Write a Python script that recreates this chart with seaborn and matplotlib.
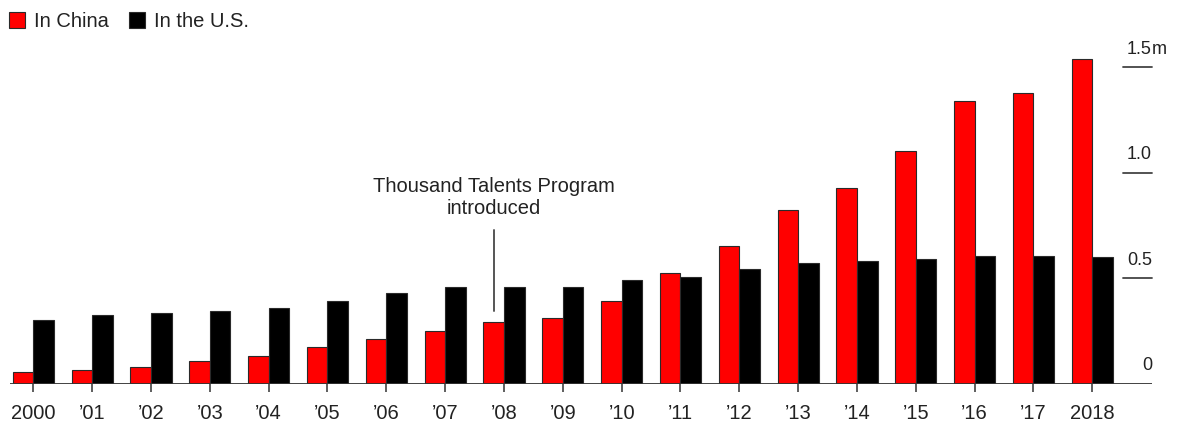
import matplotlib
matplotlib.use("Agg")
import matplotlib.pyplot as plt
import matplotlib.transforms as mtransforms
from matplotlib.patches import Patch
import seaborn as sns
import pandas as pd

# ---- data (millions) ----
years = list(range(2000, 2019))
year_labels = ["2000", "’01", "’02", "’03", "’04", "’05", "’06", "’07", "’08", "’09",
               "’10", "’11", "’12", "’13", "’14", "’15", "’16", "’17", "2018"]
china = [0.054, 0.066, 0.079, 0.108, 0.133, 0.174, 0.213, 0.248, 0.294, 0.313,
         0.392, 0.525, 0.651, 0.823, 0.929, 1.101, 1.341, 1.379, 1.539]
us = [0.300, 0.327, 0.335, 0.347, 0.360, 0.393, 0.428, 0.460, 0.460, 0.460,
      0.493, 0.506, 0.546, 0.573, 0.580, 0.592, 0.605, 0.605, 0.599]
series_names = ["In China", "In the U.S."]
yticks = [0, 0.5, 1.0, 1.5]
ytick_labels = ["0", "0.5", "1.0", "1.5"]
annot_year = 2008
annot_text = "Thousand Talents Program\nintroduced"

df = pd.DataFrame({
    "year": [str(y) for y in years] * 2,
    "value": china + us,
    "series": [series_names[0]] * len(years) + [series_names[1]] * len(years),
})

sns.set_theme(style="white")
plt.rcParams["font.family"] = ["Liberation Sans", "DejaVu Sans"]
TXT = "#222222"

fig = plt.figure(figsize=(11.8, 4.23), dpi=100)
W, H = 1180, 423
left_px, right_px = 9.8, 1152
base_px, top_px = 383.8, 46.0
ax = fig.add_axes([left_px / W, 1 - base_px / H, (right_px - left_px) / W, (base_px - top_px) / H])

palette = {series_names[0]: "#ff0000", series_names[1]: "#000000"}
sns.barplot(data=df, x="year", y="value", hue="series", hue_order=series_names,
            palette=palette, width=0.7, saturation=1, edgecolor="#2a2a2a",
            linewidth=0.8, ax=ax, legend=False)

ax.set_xlim(-0.4, 19.015)
ax.set_ylim(0, 1.6)
for s in ax.spines.values():
    s.set_visible(False)
ax.set_xlabel("")
ax.set_ylabel("")

# x axis
ax.set_xticks(range(len(years)))
ax.set_xticklabels(year_labels, fontsize=14.5, color=TXT)
ax.tick_params(axis="x", length=5.5, width=1.1, color="#333333", pad=9, bottom=True)
ax.set_yticks([])

# baseline
ax.axhline(0, color="#333333", lw=1.3, zorder=5)

# y labels on right with short lines
blend = mtransforms.blended_transform_factory(ax.transAxes, ax.transData)
x0_line = (1123 - left_px) / (right_px - left_px)
for v, lab in zip(yticks, ytick_labels):
    if v > 0:
        ax.plot([x0_line, 1.0], [v, v], transform=blend, color="#444444", lw=1.3,
                clip_on=False, zorder=5)
    off = mtransforms.offset_copy(blend, fig=fig, x=0, y=13, units="points")
    ax.text(1.0, v, lab, transform=off, ha="right", va="center", fontsize=13,
            color=TXT, clip_on=False)
    if v == yticks[-1]:
        ax.text(1.0, v, "m", transform=off, ha="left", va="center", fontsize=13,
                color=TXT, clip_on=False)

# annotation
xi = years.index(annot_year) - 0.175
ax.plot([xi, xi], [0.346, 0.73], color="#555555", lw=1.4, zorder=4)
ax.text(xi, 0.882, annot_text, ha="center", va="center", fontsize=14.5,
        color=TXT, linespacing=1.15)

# legend
handles = [Patch(facecolor=palette[n], edgecolor="#2a2a2a", linewidth=0.8, label=n)
           for n in series_names]
fig.legend(handles=handles, loc="upper left", bbox_to_anchor=(9 / W, 1 - 12 / H),
           ncol=2, frameon=False, fontsize=14.5, handlelength=0.8, handleheight=0.8,
           handletextpad=0.45, columnspacing=1.0, borderpad=0, borderaxespad=0,
           labelcolor=TXT)

fig.savefig("out.png", dpi=100)
